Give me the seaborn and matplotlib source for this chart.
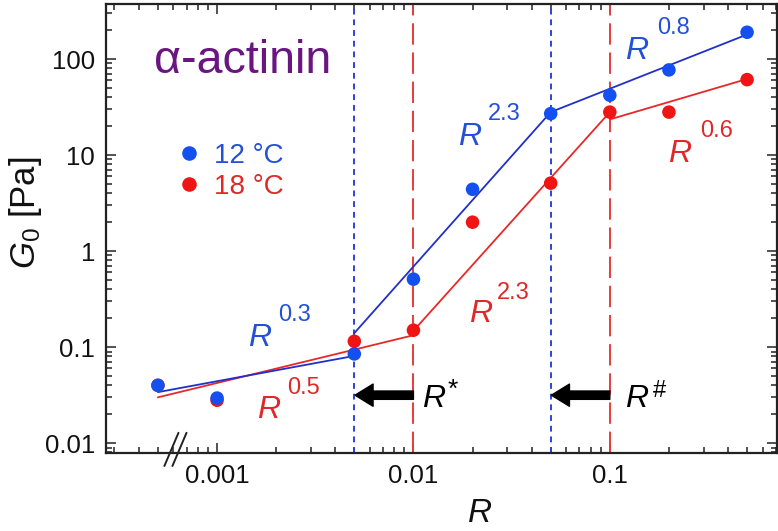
import numpy as np
import pandas as pd
import matplotlib
matplotlib.use("Agg")
import matplotlib.pyplot as plt
from matplotlib.lines import Line2D
from matplotlib.ticker import FixedLocator, FixedFormatter, LogLocator, NullFormatter
import seaborn as sns

# --- data ---------------------------------------------------------------
R_points = [0.0005, 0.001, 0.005, 0.01, 0.02, 0.05, 0.1, 0.2, 0.5]
G_12C = [0.040, 0.0295, 0.085, 0.51, 4.4, 27.0, 42.0, 77.0, 190.0]
G_18C = [0.040, 0.028, 0.115, 0.15, 2.0, 5.1, 28.0, 28.0, 61.0]

# power-law fits: (segment id, R start/end, G start/end)
fit_12C_R = [[0.0005, 0.005], [0.005, 0.05], [0.05, 0.5]]
fit_12C_G = [[0.034, 0.081], [0.14, 28.0], [28.0, 180.0]]
fit_18C_R = [[0.0005, 0.01], [0.01, 0.1], [0.1, 0.5]]
fit_18C_G = [[0.030, 0.133], [0.148, 28.0], [23.5, 62.0]]

exp_12C = ["0.3", "2.3", "0.8"]
exp_18C = ["0.5", "2.3", "0.6"]

R_star_12C, R_star_18C = 0.005, 0.01     # R*
R_hash_12C, R_hash_18C = 0.05, 0.1       # R#

temps = ["12 °C", "18 °C"]
xtick_vals = [0.001, 0.01, 0.1]
xtick_labels = ["0.001", "0.01", "0.1"]
ytick_vals = [0.01, 0.1, 1, 10, 100]
ytick_labels = ["0.01", "0.1", "1", "10", "100"]

# --- style --------------------------------------------------------------
sns.set_theme(style="ticks")
plt.rcParams["font.family"] = ["Liberation Sans", "DejaVu Sans"]
plt.rcParams["mathtext.fontset"] = "custom"
plt.rcParams["mathtext.rm"] = "Liberation Sans"
plt.rcParams["mathtext.it"] = "Liberation Sans:italic"

BLUE_PT, RED_PT = "#1450f0", "#f01414"
BLUE_LN, RED_LN = "#2030c8", "#e82828"
BLUE_TX, RED_TX = "#2450d8", "#e02828"
palette = {temps[0]: BLUE_PT, temps[1]: RED_PT}

pts = pd.DataFrame({
    "R": R_points * 2,
    "G": G_18C + G_12C,
    "T": [temps[1]] * len(R_points) + [temps[0]] * len(R_points),
})

rows = []
for T, Rs, Gs in [(temps[1], fit_18C_R, fit_18C_G), (temps[0], fit_12C_R, fit_12C_G)]:
    for k, (rr, gg) in enumerate(zip(Rs, Gs)):
        for r, g in zip(rr, gg):
            rows.append({"R": r, "G": g, "T": T, "seg": f"{T}-{k}"})
fits = pd.DataFrame(rows)

fig = plt.figure(figsize=(7.78, 5.31), dpi=100)
ax = fig.add_axes([106 / 778, 1 - 453 / 531, 671 / 778, 449 / 531])
ax.set_xscale("log")
ax.set_yscale("log")
ax.set_xlim(0.000272, 0.71)
ax.set_ylim(0.0079, 374)

# guide lines at the crossover concentrations
for xv in (R_star_12C, R_hash_12C):
    ax.axvline(xv, color="#3040e0", lw=1.4, dashes=(3, 2.5), zorder=1)
for xv in (R_star_18C, R_hash_18C):
    ax.axvline(xv, color="#e83c3c", lw=1.4, dashes=(11, 4), zorder=1)

# fit segments
sns.lineplot(data=fits, x="R", y="G", hue="T", units="seg", estimator=None,
             palette={temps[0]: BLUE_LN, temps[1]: RED_LN}, lw=1.3,
             legend=False, ax=ax, zorder=2, sort=False)

# measured points (18 °C below 12 °C)
sns.scatterplot(data=pts, x="R", y="G", hue="T", palette=palette, s=95,
                edgecolor="none", legend=False, ax=ax, zorder=3)

# arrows from the 18 °C to the 12 °C crossover
arrow_kw = dict(arrowstyle="simple,head_length=0.65,head_width=0.8,tail_width=0.3",
                color="black", mutation_scale=20, shrinkA=0, shrinkB=0.5)
arrow_y = 0.0316
ax.annotate("", xy=(R_star_12C, arrow_y), xytext=(R_star_18C, arrow_y),
            arrowprops=arrow_kw, zorder=4)
ax.annotate("", xy=(R_hash_12C, arrow_y), xytext=(R_hash_18C, arrow_y),
            arrowprops=arrow_kw, zorder=4)

big = 23
sup = 17
ax.text(0.0110, 0.0237, "R", style="italic", fontsize=big, color="black")
ax.text(0.0150, 0.0480, "*", fontsize=sup + 2, color="black", va="top")
ax.text(0.119, 0.0237, "R", style="italic", fontsize=big, color="black")
ax.text(0.166, 0.0452, "#", fontsize=sup, color="black", va="top")

# power-law exponents
def power_label(xr, yr, xe, ye, exp, color):
    ax.text(xr, yr, "R", style="italic", fontsize=big, color=color, va="baseline")
    ax.text(xe, ye, exp, fontsize=sup, color=color, va="baseline")

power_label(0.00144, 0.1024, 0.00205, 0.187, exp_12C[0], BLUE_TX)
power_label(0.0168, 12.7, 0.0239, 23.2, exp_12C[1], BLUE_TX)
power_label(0.119, 100.0, 0.174, 182.0, exp_12C[2], BLUE_TX)
power_label(0.00160, 0.0182, 0.00228, 0.0324, exp_18C[0], RED_TX)
power_label(0.0193, 0.182, 0.0265, 0.316, exp_18C[1], RED_TX)
power_label(0.198, 8.45, 0.288, 15.4, exp_18C[2], RED_TX)

# title inside the frame
ax.text(0.2035, 0.874, "α-actinin", transform=ax.transAxes, fontsize=33.5,
        color="#6b1580", ha="center", va="center")

# legend
handles = [Line2D([], [], ls="", marker="o", ms=10.5, mec="none", mfc=BLUE_PT),
           Line2D([], [], ls="", marker="o", ms=10.5, mec="none", mfc=RED_PT)]
leg = ax.legend(handles, temps, loc="upper left", bbox_to_anchor=(0.088, 0.716),
                frameon=False, fontsize=20, handletextpad=0.45, labelspacing=0.2,
                handlelength=0.9, borderaxespad=0)
for txt, c in zip(leg.get_texts(), [BLUE_TX, RED_TX]):
    txt.set_color(c)

# axes, ticks
ax.xaxis.set_major_locator(FixedLocator(xtick_vals))
ax.xaxis.set_major_formatter(FixedFormatter(xtick_labels))
ax.xaxis.set_minor_locator(LogLocator(base=10, subs=np.arange(2, 10)))
ax.xaxis.set_minor_formatter(NullFormatter())
ax.yaxis.set_major_locator(FixedLocator(ytick_vals))
ax.yaxis.set_major_formatter(FixedFormatter(ytick_labels))
ax.yaxis.set_minor_locator(LogLocator(base=10, subs=np.arange(2, 10)))
ax.yaxis.set_minor_formatter(NullFormatter())
ax.tick_params(which="both", direction="in", top=True, right=True,
               color="#222222", width=1.1, labelsize=18.5, labelcolor="#111111")
ax.tick_params(which="major", length=7, pad=8)
ax.tick_params(which="minor", length=4)
for sp in ax.spines.values():
    sp.set_linewidth(1.6)
    sp.set_color("#222222")

ax.set_xlabel("R", style="italic", fontsize=24, color="#111111")
ax.xaxis.set_label_coords(0.557, -0.100)
ax.set_ylabel(r"$G_0$ [Pa]", fontsize=25, color="#111111")
ax.yaxis.set_label_coords(-0.093, 0.535)

# axis-break marks on the R axis
for x0 in (0.087, 0.099):
    ax.add_line(Line2D([x0, x0 + 0.021], [-0.029, 0.045], transform=ax.transAxes,
                       color="#222222", lw=1.4, clip_on=False))

fig.savefig("out.png", dpi=100)
